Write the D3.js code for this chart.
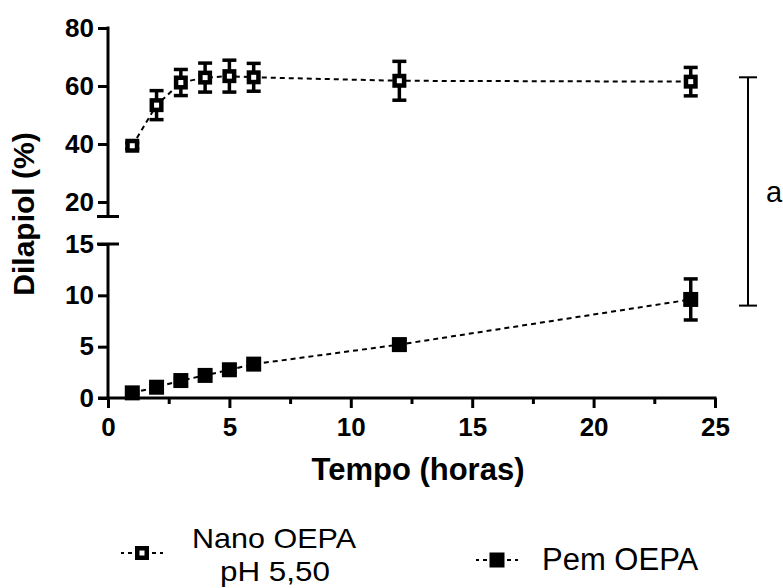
<!DOCTYPE html>
<html>
<head>
<meta charset="utf-8">
<script src="https://cdn.jsdelivr.net/npm/d3@7"></script>
<style>
  html, body { margin: 0; padding: 0; background: #fff; }
  svg { display: block; font-family: "Liberation Sans", Arial, sans-serif; }
</style>
</head>
<body>
<svg id="chart" width="783" height="588"></svg>
<script>
// ---- data ----
const times = [1, 2, 3, 4, 5, 6, 12, 24];
const nanoMean = [39.4, 53.4, 61.2, 62.9, 63.4, 63.0, 61.8, 61.5];
const nanoErr  = [1.0, 5.0, 4.5, 5.0, 5.5, 4.8, 6.7, 4.9];
const pemMean  = [0.5, 1.05, 1.7, 2.2, 2.75, 3.3, 5.2, 9.6];
const pemErr   = [0.1, 0.2, 0.2, 0.2, 0.2, 0.2, 0.5, 2.0];
const xTicks = [0, 5, 10, 15, 20, 25];
const xMinorTicks = [2.5, 7.5, 12.5, 17.5, 22.5];
const yTopTicks = [20, 40, 60, 80];
const yBottomTicks = [0, 5, 10, 15];
const seriesNames = ["Nano OEPA", "pH 5,50", "Pem OEPA"];
const xTitle = "Tempo (horas)";
const yTitle = "Dilapiol (%)";
const bracketTop = 63;     // on upper segment
const bracketBottom = 9;   // on lower segment
const bracketLabel = "a";

// ---- scales ----
const svg = d3.select("#chart");
const x = d3.scaleLinear().domain([0, 25]).range([108, 715]);
const yTop = d3.scaleLinear().domain([15, 80]).range([216.5, 28]);
const yBot = d3.scaleLinear().domain([0, 15]).range([398, 244]);

const AX = 108;
const axW = 3;

// ---- axes ----
function styleAxis(g) {
  g.selectAll("path.domain").remove();
  g.selectAll(".tick line").attr("stroke", "#000").attr("stroke-width", axW);
  g.selectAll(".tick text").attr("fill", "#000")
    .style("font-size", "26px").style("font-weight", "bold")
    .style("font-family", "'Liberation Sans', Arial, sans-serif");
}

const gTop = svg.append("g").attr("transform", `translate(${AX},0)`)
  .call(d3.axisLeft(yTop).tickValues(yTopTicks).tickSize(10).tickPadding(4).tickSizeOuter(0));
styleAxis(gTop);
const gBot = svg.append("g").attr("transform", `translate(${AX},0)`)
  .call(d3.axisLeft(yBot).tickValues(yBottomTicks).tickSize(10).tickPadding(4).tickSizeOuter(0));
styleAxis(gBot);

// axis spines
svg.append("line").attr("x1", AX).attr("x2", AX)
  .attr("y1", yTop(80) - 1.5).attr("y2", yTop(15))
  .attr("stroke", "#000").attr("stroke-width", axW);
svg.append("line").attr("x1", AX - 11).attr("x2", AX + 11)
  .attr("y1", yTop(15)).attr("y2", yTop(15))
  .attr("stroke", "#000").attr("stroke-width", axW);
svg.append("line").attr("x1", AX).attr("x2", AX)
  .attr("y1", yBot(15)).attr("y2", yBot(0))
  .attr("stroke", "#000").attr("stroke-width", axW);
svg.append("line").attr("x1", AX - 11).attr("x2", AX + 11)
  .attr("y1", yBot(15)).attr("y2", yBot(15))
  .attr("stroke", "#000").attr("stroke-width", axW);

const gX = svg.append("g").attr("transform", `translate(0,${yBot(0)})`)
  .call(d3.axisBottom(x).tickValues(xTicks).tickSize(10).tickPadding(10).tickSizeOuter(0));
styleAxis(gX);
gX.selectAll(".tick text").attr("dy", "0.71em");
svg.append("g").attr("transform", `translate(0,${yBot(0)})`)
  .call(d3.axisBottom(x).tickValues(xMinorTicks).tickSize(6).tickFormat(""))
  .call(g => { g.select("path.domain").remove();
               g.selectAll(".tick line").attr("stroke", "#000").attr("stroke-width", axW); });
svg.append("line").attr("x1", x(0) - 10).attr("x2", x(25) + 1.5)
  .attr("y1", yBot(0)).attr("y2", yBot(0))
  .attr("stroke", "#000").attr("stroke-width", axW);

// titles
svg.append("text").attr("x", 418).attr("y", 480).attr("text-anchor", "middle")
  .style("font-size", "31px").style("font-weight", "bold").text(xTitle);
svg.append("text").attr("transform", "translate(34,214) rotate(-90)")
  .attr("text-anchor", "middle")
  .style("font-size", "30px").style("font-weight", "bold").text(yTitle);

// ---- series ----
const nano = times.map((t, i) => ({ t, m: nanoMean[i], e: nanoErr[i] }));
const pem = times.map((t, i) => ({ t, m: pemMean[i], e: pemErr[i] }));

function drawSeries(data, y, filled) {
  const g = svg.append("g");
  g.append("path").datum(data)
    .attr("d", d3.line().x(d => x(d.t)).y(d => y(d.m)))
    .attr("fill", "none").attr("stroke", "#000").attr("stroke-width", 2)
    .attr("stroke-dasharray", "5,4");
  const eb = g.selectAll("g.err").data(data).enter().append("g");
  eb.append("line").attr("x1", d => x(d.t)).attr("x2", d => x(d.t))
    .attr("y1", d => y(d.m + d.e)).attr("y2", d => y(d.m - d.e))
    .attr("stroke", "#000").attr("stroke-width", 3.5);
  [1, -1].forEach(s => {
    eb.append("line").attr("x1", d => x(d.t) - 7).attr("x2", d => x(d.t) + 7)
      .attr("y1", d => y(d.m + s * d.e)).attr("y2", d => y(d.m + s * d.e))
      .attr("stroke", "#000").attr("stroke-width", 3.5);
  });
  if (filled) {
    g.selectAll("rect.m").data(data).enter().append("rect")
      .attr("x", d => x(d.t) - 7.5).attr("y", d => y(d.m) - 7.5)
      .attr("width", 15).attr("height", 15).attr("fill", "#000");
  } else {
    g.selectAll("rect.m").data(data).enter().append("rect")
      .attr("x", d => x(d.t) - 4.75).attr("y", d => y(d.m) - 4.75)
      .attr("width", 9.5).attr("height", 9.5)
      .attr("fill", "#fff").attr("stroke", "#000").attr("stroke-width", 4.5);
  }
}
drawSeries(nano, yTop, false);
drawSeries(pem, yBot, true);

// ---- bracket ----
const bx = 748;
const by1 = yTop(bracketTop), by2 = yBot(bracketBottom);
svg.append("line").attr("x1", bx).attr("x2", bx).attr("y1", by1).attr("y2", by2)
  .attr("stroke", "#000").attr("stroke-width", 2);
[by1, by2].forEach(yy => svg.append("line").attr("x1", bx - 9).attr("x2", bx + 9)
  .attr("y1", yy).attr("y2", yy).attr("stroke", "#000").attr("stroke-width", 2));
svg.append("text").attr("x", 766).attr("y", 202).style("font-size", "29px").text(bracketLabel);

// ---- legend ----
function legendSym(cx, cy, filled) {
  svg.append("line").attr("x1", cx - 21).attr("x2", cx + 21).attr("y1", cy).attr("y2", cy)
    .attr("stroke", "#000").attr("stroke-width", 2).attr("stroke-dasharray", "4,4")
    .attr("stroke-dashoffset", 1);
  if (filled) {
    svg.append("rect").attr("x", cx - 7.5).attr("y", cy - 7.5).attr("width", 15).attr("height", 15)
      .attr("fill", "#000");
  } else {
    svg.append("rect").attr("x", cx - 4.75).attr("y", cy - 4.75).attr("width", 9.5).attr("height", 9.5)
      .attr("fill", "#fff").attr("stroke", "#000").attr("stroke-width", 4.5);
  }
}
legendSym(142, 553, false);
svg.append("text").attr("x", 274).attr("y", 548).attr("text-anchor", "middle")
  .style("font-size", "28px").attr("textLength", 164).attr("lengthAdjust", "spacingAndGlyphs")
  .text(seriesNames[0]);
svg.append("text").attr("x", 275).attr("y", 581).attr("text-anchor", "middle")
  .style("font-size", "28px").attr("textLength", 110).attr("lengthAdjust", "spacingAndGlyphs")
  .text(seriesNames[1]);
legendSym(497, 560, true);
svg.append("text").attr("x", 542).attr("y", 570)
  .style("font-size", "31px").text(seriesNames[2]);
</script>
</body>
</html>
